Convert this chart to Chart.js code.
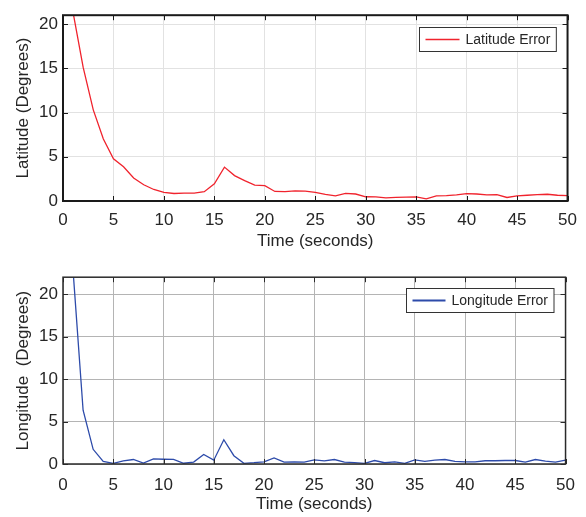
<!DOCTYPE html>
<html>
<head>
<meta charset="utf-8">
<script src="https://cdn.jsdelivr.net/npm/chart.js@4.4.1/dist/chart.umd.min.js"></script>
<style>
  html, body { margin: 0; padding: 0; background: #fff; }
  .panel { position: absolute; left: 0; width: 586px; }
  #latPanel { top: 0; height: 262px; }
  #lonPanel { top: 262px; height: 255px; }
</style>
</head>
<body>
<div class="panel" id="latPanel"><canvas id="latChart"></canvas></div>
<div class="panel" id="lonPanel"><canvas id="lonChart"></canvas></div>
<script>
// time steps (s)
var time = [1, 2, 3, 4, 5, 6, 7, 8, 9, 10,
  11, 12, 13, 14, 15, 16, 17, 18, 19, 20,
  21, 22, 23, 24, 25, 26, 27, 28, 29, 30,
  31, 32, 33, 34, 35, 36, 37, 38, 39, 40,
  41, 42, 43, 44, 45, 46, 47, 48, 49, 50];

// latitude error (deg)
var latError = [21.3, 15.1, 10.3, 7.0, 4.77, 3.86, 2.6, 1.84, 1.3, 0.97,
  0.85, 0.9, 0.9, 1.05, 1.95, 3.83, 2.87, 2.3, 1.8, 1.73,
  1.08, 1.05, 1.15, 1.12, 0.97, 0.76, 0.58, 0.87, 0.79, 0.48,
  0.47, 0.36, 0.4, 0.43, 0.47, 0.25, 0.58, 0.61, 0.69, 0.83,
  0.79, 0.69, 0.72, 0.4, 0.58, 0.65, 0.72, 0.76, 0.65, 0.61];

// longitude error (deg)
var lonError = [22.8, 6.33, 1.73, 0.3, 0.08, 0.38, 0.53, 0.11, 0.6, 0.56,
  0.54, 0.09, 0.23, 1.13, 0.45, 2.86, 0.98, 0.08, 0.15, 0.26,
  0.72, 0.23, 0.26, 0.23, 0.49, 0.38, 0.53, 0.23, 0.15, 0.08,
  0.41, 0.15, 0.26, 0.08, 0.49, 0.3, 0.45, 0.53, 0.3, 0.26,
  0.26, 0.38, 0.38, 0.41, 0.41, 0.23, 0.53, 0.34, 0.23, 0.45];

var xTicks = [0, 5, 10, 15, 20, 25, 30, 35, 40, 45, 50];
var yTicks = [0, 5, 10, 15, 20];

var FONT = '"Liberation Sans", Arial, Helvetica, sans-serif';
var TEXT = '#262626';

// box around the axes, inward tick marks and a boxed legend in the top right corner
var matlabFrame = {
  id: 'matlabFrame',
  afterDatasetsDraw: function (chart, args, opts) {
    var ctx = chart.ctx;
    var a = chart.chartArea;
    var xs = chart.scales.x;
    var ys = chart.scales.y;
    var len = 5;

    ctx.save();
    ctx.strokeStyle = opts.frameColor;
    ctx.lineWidth = 1;
    ctx.beginPath();
    xs.ticks.forEach(function (t) {
      var px = Math.round(xs.getPixelForValue(t.value)) + 0.5;
      ctx.moveTo(px, a.bottom);
      ctx.lineTo(px, a.bottom - len);
      ctx.moveTo(px, a.top);
      ctx.lineTo(px, a.top + len);
    });
    ys.ticks.forEach(function (t) {
      var py = Math.round(ys.getPixelForValue(t.value)) + 0.5;
      ctx.moveTo(a.left, py);
      ctx.lineTo(a.left + len, py);
      ctx.moveTo(a.right, py);
      ctx.lineTo(a.right - len, py);
    });
    ctx.stroke();

    ctx.lineWidth = opts.frameWidth;
    ctx.strokeRect(a.left, a.top, a.right - a.left, a.bottom - a.top);

    // legend
    var ds = chart.data.datasets[0];
    ctx.font = '14px ' + FONT;
    var tw = ctx.measureText(ds.label).width;
    var w = 6 + opts.sampleLen + 6 + tw + 6;
    var h = 24;
    var bx = Math.round(a.right - 12 - w) + 0.5;
    var by = Math.round(a.top + opts.legendTop) + 0.5;
    ctx.fillStyle = '#fff';
    ctx.fillRect(bx, by, w, h);
    ctx.strokeStyle = '#333';
    ctx.lineWidth = 1;
    ctx.strokeRect(bx, by, w, h);
    ctx.strokeStyle = ds.borderColor;
    ctx.lineWidth = opts.sampleWidth;
    ctx.beginPath();
    ctx.moveTo(bx + 6, by + h / 2);
    ctx.lineTo(bx + 6 + opts.sampleLen, by + h / 2);
    ctx.stroke();
    ctx.fillStyle = TEXT;
    ctx.textBaseline = 'middle';
    ctx.fillText(ds.label, bx + 12 + opts.sampleLen, by + h / 2 + 1);
    ctx.restore();
  }
};

function makeChart(id, label, values, color, cfg) {
  var points = time.map(function (t, i) { return { x: t, y: values[i] }; });
  return new Chart(document.getElementById(id), {
    type: 'line',
    data: {
      datasets: [{
        label: label,
        data: points,
        borderColor: color,
        borderWidth: 1.3,
        pointRadius: 0,
        tension: 0,
        clip: 0
      }]
    },
    options: {
      responsive: true,
      maintainAspectRatio: false,
      animation: false,
      layout: { padding: { top: cfg.top, right: 17, left: 0, bottom: 0 } },
      scales: {
        x: {
          type: 'linear',
          min: 0,
          max: 50,
          afterBuildTicks: function (s) { s.ticks = xTicks.map(function (v) { return { value: v }; }); },
          afterFit: function (s) { s.height = cfg.xHeight; },
          ticks: { color: TEXT, font: { family: FONT, size: 17 }, padding: cfg.xTickPad, maxRotation: 0 },
          grid: { color: cfg.grid, drawTicks: false },
          border: { display: false },
          title: {
            display: true,
            text: 'Time (seconds)',
            color: TEXT,
            font: { family: FONT, size: 17 },
            padding: { top: 0, bottom: cfg.xTitlePad }
          }
        },
        y: {
          min: 0,
          max: cfg.yMax,
          afterBuildTicks: function (s) { s.ticks = yTicks.map(function (v) { return { value: v }; }); },
          afterFit: function (s) { s.width = 63; },
          ticks: { color: TEXT, font: { family: FONT, size: 17 }, padding: 5 },
          grid: { color: cfg.grid, drawTicks: false },
          border: { display: false },
          title: {
            display: true,
            text: cfg.yTitle,
            color: TEXT,
            font: { family: FONT, size: 17 },
            padding: { top: 13, bottom: 0 }
          }
        }
      },
      plugins: {
        legend: { display: false },
        tooltip: { enabled: false },
        matlabFrame: cfg.frame
      }
    },
    plugins: [matlabFrame]
  });
}

makeChart('latChart', 'Latitude Error', latError, 'rgb(240, 35, 45)', {
  top: 7, xHeight: 61, xTickPad: 9, xTitlePad: 10, yMax: 21,
  yTitle: 'Latitude (Degrees)', grid: '#e2e2e2',
  frame: { frameColor: '#1a1a1a', frameWidth: 2, sampleLen: 34, sampleWidth: 1.3, legendTop: 12 }
});

makeChart('lonChart', 'Longitude Error', lonError, 'rgb(45, 75, 170)', {
  top: 10, xHeight: 53, xTickPad: 11, xTitlePad: 2, yMax: 22,
  yTitle: 'Longitude  (Degrees)', grid: '#b4b4b4',
  frame: { frameColor: '#2a2a2a', frameWidth: 1.5, sampleLen: 33, sampleWidth: 2, legendTop: 11 }
});
</script>
</body>
</html>
